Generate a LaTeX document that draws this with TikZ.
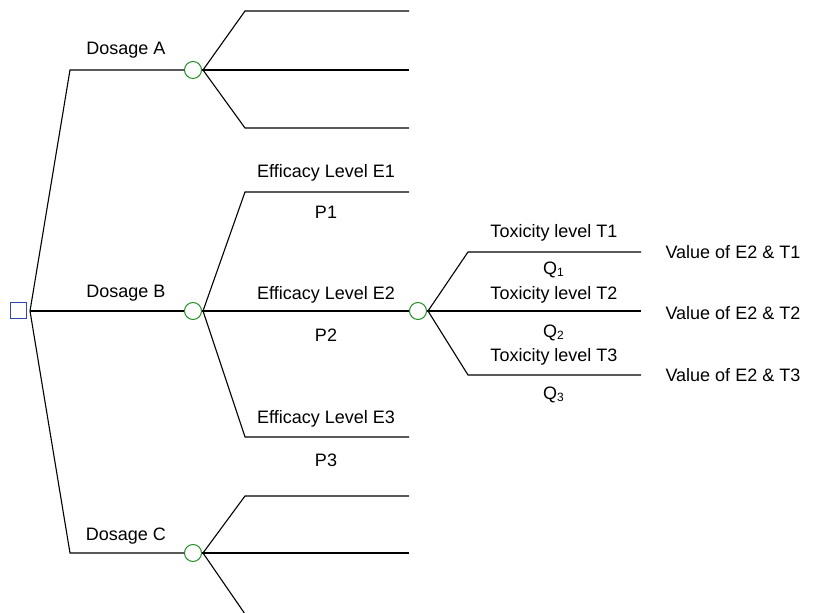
\documentclass[tikz,border=0pt]{standalone}
\usepackage{fontspec}
\setmainfont{Liberation Sans}
\definecolor{chgreen}{RGB}{34,140,34}
\definecolor{decblue}{RGB}{50,70,170}
\begin{document}
\begin{tikzpicture}[x=0.5pt,y=-0.5pt,
  line width=0.55pt,
  every node/.style={font=\fontsize{9}{10}\selectfont, inner sep=0pt},
  decbox/.style={draw=decblue, rectangle, minimum size=8pt, line width=0.5pt},
  chance/.style={draw=chgreen, circle, minimum size=8.5pt, line width=0.5pt},
  lbl/.style={anchor=center}]
\useasboundingbox (0,0) rectangle (814,613);
\clip (0,0) rectangle (814,613);
% decision node
\node[decbox] (sq) at (18,311) {};
\coordinate (r) at (30,311);
\coordinate (a1) at (70,70);
\coordinate (c1) at (70,553);
\node[chance] (A) at (193,70) {};
\node[chance] (B) at (193,311) {};
\node[chance] (C) at (193,553) {};
\draw (r) -- (a1) -- (A.west);
\draw (r) -- (B.west);
\draw (r) -- (c1) -- (C.west);
% fan A
\coordinate (fa) at (203,70);
\coordinate (fa1) at (245,11); \coordinate (ea1) at (409,11);
\coordinate (ea2) at (409,70);
\coordinate (fa3) at (245,128); \coordinate (ea3) at (409,128);
\draw (A.east) -- (fa) -- (ea2);
\draw (fa) -- (fa1) -- (ea1);
\draw (fa) -- (fa3) -- (ea3);
% fan B
\coordinate (fb) at (203,311);
\coordinate (fb1) at (245,192); \coordinate (eb1) at (409,192);
\node[chance] (B2) at (418,311) {};
\coordinate (fb3) at (245,437); \coordinate (eb3) at (409,437);
\draw (B.east) -- (fb) -- (B2.west);
\draw (fb) -- (fb1) -- (eb1);
\draw (fb) -- (fb3) -- (eb3);
% fan C
\coordinate (fc) at (203,553);
\coordinate (fc1) at (245,496); \coordinate (ec1) at (409,496);
\coordinate (ec2) at (409,553);
\coordinate (fc3) at (245,614); \coordinate (ec3) at (409,614);
\draw (C.east) -- (fc) -- (ec2);
\draw (fc) -- (fc1) -- (ec1);
\draw (fc) -- (fc3) -- (ec3);
% fan B2
\coordinate (ft) at (428,311);
\coordinate (ft1) at (468,252); \coordinate (et1) at (641,252);
\coordinate (et2) at (641,311);
\coordinate (ft3) at (468,375); \coordinate (et3) at (641,375);
\draw (B2.east) -- (ft) -- (et2);
\draw (ft) -- (ft1) -- (et1);
\draw (ft) -- (ft3) -- (et3);
% labels
\node[lbl] (lA) at (126,50) {Dosage A};
\node[lbl] (lB) at (126,293) {Dosage B};
\node[lbl] (lC) at (126,536) {Dosage C};
\node[lbl] (e1) at (326,173) {Efficacy Level E1};
\node[lbl] (p1) at (326,212) {P1};
\node[lbl] (e2) at (326,295) {Efficacy Level E2};
\node[lbl] (p2) at (326,335) {P2};
\node[lbl] (e3) at (326,419) {Efficacy Level E3};
\node[lbl] (p3) at (326,460) {P3};
\node[lbl] (t1) at (554,233) {Toxicity level T1};
\node[lbl] (q1) at (554,270) {Q\textsubscript{1}};
\node[lbl] (t2) at (554,295) {Toxicity level T2};
\node[lbl] (q2) at (554,333) {Q\textsubscript{2}};
\node[lbl] (t3) at (554,357) {Toxicity level T3};
\node[lbl] (q3) at (554,395) {Q\textsubscript{3}};
\node[anchor=west] (v1) at (665,252) {Value of E2 \& T1};
\node[anchor=west] (v2) at (665,313) {Value of E2 \& T2};
\node[anchor=west] (v3) at (665,375) {Value of E2 \& T3};
\end{tikzpicture}
\end{document}
